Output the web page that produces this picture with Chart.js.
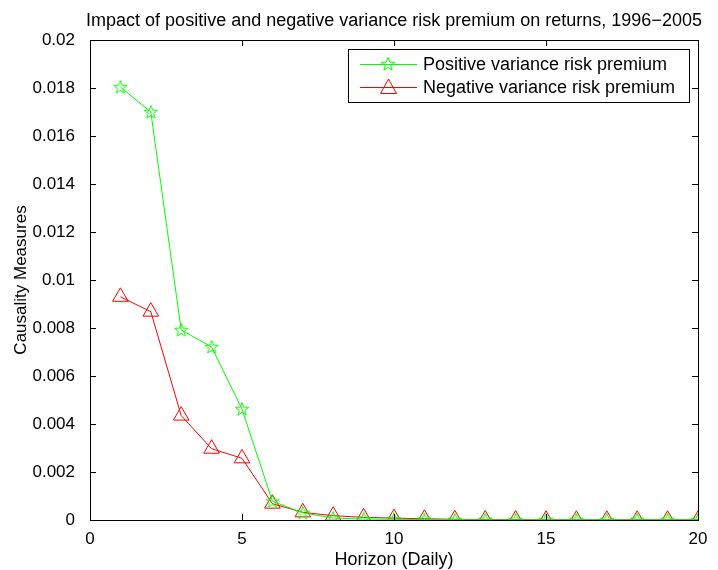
<!DOCTYPE html>
<html>
<head>
<meta charset="utf-8">
<script src="https://cdn.jsdelivr.net/npm/chart.js@4.4.0/dist/chart.umd.min.js"></script>
<style>
  body { margin: 0; background: #fff; }
  #wrap { width: 718px; height: 570px; }
</style>
</head>
<body>
<div id="wrap"><canvas id="c" width="718" height="570"></canvas></div>
<script>
const horizon = [1,2,3,4,5,6,7,8,9,10,11,12,13,14,15,16,17,18,19,20];
const positiveVRP = [0.01804,0.01700,0.00792,0.00721,0.00462,0.00078,0.00030,0.00008,0.00004,0.00003,0.00002,0.00001,0.00001,0.00001,0.00001,0.00001,0.00001,0.00001,0.00001,0.00001];
const negativeVRP = [0.00930,0.00868,0.00435,0.00297,0.00257,0.00068,0.00032,0.00018,0.00011,0.00008,0.00005,0.00003,0.00002,0.00002,0.00001,0.00001,0.00001,0.00001,0.00001,0.00001];
const xTicks = [0,5,10,15,20];
const yTicks = [0,0.002,0.004,0.006,0.008,0.01,0.012,0.014,0.016,0.018,0.02];
const labels = ["Positive variance risk premium","Negative variance risk premium"];
const titleText = "Impact of positive and negative variance risk premium on returns, 1996\u22122005";

const FONT = "'Liberation Sans', Arial, sans-serif";

// pentagram marker (MATLAB style)
function makeStar(color) {
  const s = 16, c = document.createElement('canvas');
  c.width = s; c.height = s;
  const g = c.getContext('2d');
  g.strokeStyle = color; g.lineWidth = 1;
  const R = 7, r = 2.9, cx = s/2, cy = s/2 + 0.5;
  g.beginPath();
  for (let i = 0; i < 10; i++) {
    const a = -Math.PI/2 + i*Math.PI/5;
    const rr = i % 2 ? r : R;
    const px = cx + rr*Math.cos(a), py = cy + rr*Math.sin(a);
    i ? g.lineTo(px, py) : g.moveTo(px, py);
  }
  g.closePath(); g.stroke();
  return c;
}
const greenStar = makeStar('#00ff00');

const frame = {
  id: 'frame',
  afterDraw(chart) {
    const {ctx, chartArea: a, scales} = chart;
    ctx.save();
    ctx.strokeStyle = '#000'; ctx.lineWidth = 1;
    ctx.strokeRect(Math.round(a.left)+0.5, Math.round(a.top)+0.5, Math.round(a.right-a.left), Math.round(a.bottom-a.top));
    ctx.beginPath();
    xTicks.forEach(v => {
      const x = Math.round(scales.x.getPixelForValue(v)) + 0.5;
      ctx.moveTo(x, a.bottom); ctx.lineTo(x, a.bottom - 6);
      ctx.moveTo(x, a.top); ctx.lineTo(x, a.top + 6);
    });
    yTicks.forEach(v => {
      const y = Math.round(scales.y.getPixelForValue(v)) + 0.5;
      ctx.moveTo(a.left, y); ctx.lineTo(a.left + 6, y);
      ctx.moveTo(a.right, y); ctx.lineTo(a.right - 6, y);
    });
    ctx.stroke();

    // title
    ctx.fillStyle = '#000';
    ctx.font = '18px ' + FONT;
    ctx.textAlign = 'center'; ctx.textBaseline = 'alphabetic';
    ctx.fillText(titleText, (a.left + a.right)/2, 26);

    // legend box
    const lx = 348, ly = 49, lw = 341, lh = 53;
    ctx.fillStyle = '#fff';
    ctx.fillRect(lx, ly, lw, lh);
    ctx.strokeRect(lx + 0.5, ly + 0.5, lw, lh);
    ctx.font = '18px ' + FONT;
    ctx.textAlign = 'left'; ctx.textBaseline = 'middle';
    const rows = [64, 87];
    const colors = ['#00ff00', '#ff0000'];
    rows.forEach((y, i) => {
      ctx.strokeStyle = colors[i];
      ctx.beginPath();
      ctx.moveTo(360, y + 0.5); ctx.lineTo(417, y + 0.5);
      ctx.stroke();
      if (i === 0) {
        ctx.drawImage(greenStar, 388 - 8, y - 8);
      } else {
        ctx.beginPath();
        ctx.moveTo(388.5, y - 8); ctx.lineTo(396.5, y + 6.5); ctx.lineTo(380.5, y + 6.5); ctx.closePath();
        ctx.stroke();
      }
      ctx.fillStyle = '#000';
      ctx.fillText(labels[i], 423, y + 1);
    });

    // axis titles
    ctx.textAlign = 'center'; ctx.textBaseline = 'alphabetic';
    ctx.font = '18px ' + FONT;
    ctx.fillText('Horizon (Daily)', (a.left + a.right)/2, 565);
    ctx.font = '17px ' + FONT;
    ctx.textBaseline = 'middle';
    ctx.save();
    ctx.translate(21, (a.top + a.bottom)/2);
    ctx.rotate(-Math.PI/2);
    ctx.fillText('Causality Measures', 0, 0);
    ctx.restore();
    ctx.restore();
  }
};

new Chart(document.getElementById('c'), {
  type: 'line',
  data: {
    datasets: [
      {
        label: labels[0],
        data: horizon.map((h, i) => ({x: h, y: positiveVRP[i]})),
        borderColor: '#00ff00', borderWidth: 1,
        pointStyle: greenStar, pointRadius: 8,
        fill: false, tension: 0
      },
      {
        label: labels[1],
        data: horizon.map((h, i) => ({x: h, y: negativeVRP[i]})),
        borderColor: '#ff0000', borderWidth: 1,
        pointStyle: 'triangle', pointRadius: 9, pointBorderWidth: 1,
        pointBackgroundColor: 'rgba(0,0,0,0)', pointBorderColor: '#ff0000',
        fill: false, tension: 0
      }
    ]
  },
  options: {
    responsive: false,
    animation: false,
    devicePixelRatio: 1,
    layout: { padding: { top: 40, right: 20, left: 0, bottom: 0 } },
    plugins: { legend: { display: false }, tooltip: { enabled: false } },
    scales: {
      x: {
        type: 'linear', min: 0, max: 20,
        afterFit(s) { s.height = 50; },
        afterBuildTicks(s) { s.ticks = xTicks.map(v => ({value: v})); },
        grid: { display: false },
        border: { display: false },
        ticks: { color: '#000', font: { family: FONT, size: 17 }, padding: 1, maxRotation: 0 }
      },
      y: {
        min: 0, max: 0.02,
        afterFit(s) { s.width = 90; },
        afterBuildTicks(s) { s.ticks = yTicks.map(v => ({value: v})); },
        grid: { display: false },
        border: { display: false },
        ticks: {
          color: '#000', font: { family: FONT, size: 17 }, padding: 7,
          callback: v => String(Number(v.toFixed(3)))
        }
      }
    }
  },
  plugins: [frame]
});
</script>
</body>
</html>
